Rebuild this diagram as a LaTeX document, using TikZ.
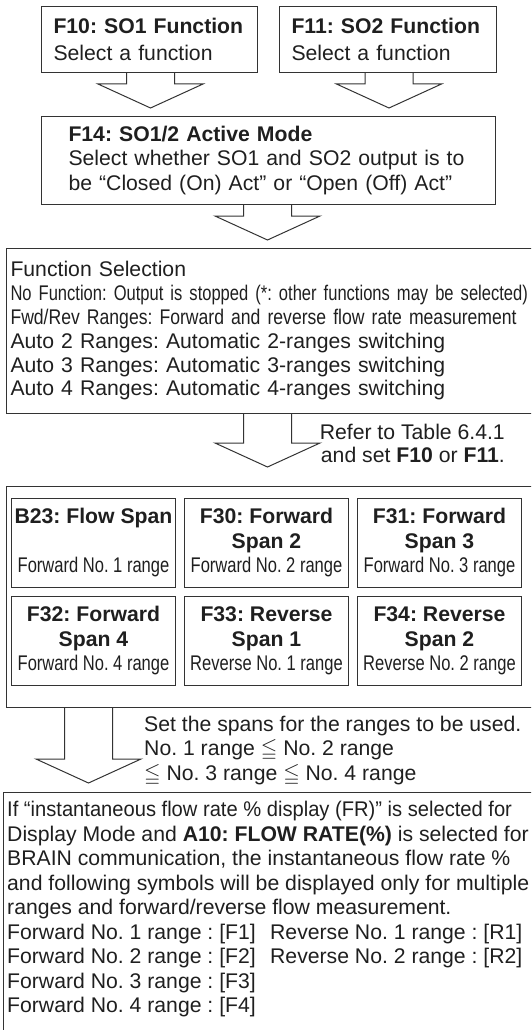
\documentclass[tikz,border=0pt]{standalone}
\usepackage{amssymb}
\usepackage{fontspec}
\setmainfont{Liberation Sans}
\newfontfamily\tightfont{Liberation Sans}[FakeStretch=0.95]
\newfontfamily\narrowfont{Liberation Sans}[FakeStretch=0.83]
\newfontfamily\narrowerfont{Liberation Sans}[FakeStretch=0.78]
\usetikzlibrary{calc,positioning}
\frenchspacing
% hollow block arrow: from node #1 down towards node #2, centred at x=#3, tip #4 above #2
\newcommand{\blockarrow}[4]{%
  \draw[hollow] let \p1=(#1.south), \p2=(#2.north) in
    (#3pt-24pt,\y1) -- (#3pt-24pt,\y2+#4pt+24pt) -- (#3pt-52.5pt,\y2+#4pt+24pt)
    -- (#3pt,\y2+#4pt) -- (#3pt+52.5pt,\y2+#4pt+24pt) -- (#3pt+24pt,\y2+#4pt+24pt)
    -- (#3pt+24pt,\y1);}

\begin{document}
\begin{tikzpicture}[
  x=1pt, y=-1pt,
  every node/.style={font=\fontsize{21.2}{24.5}\selectfont, text=black!88},
  box/.style={draw=black!80, line width=1pt, align=left, anchor=north west,
              inner ysep=4pt},
  span/.style={draw=black!80, line width=1pt, align=center, inner sep=0pt,
               minimum width=164pt, minimum height=89pt},
  note/.style={align=left, inner sep=0pt},
  hollow/.style={draw=black!80, line width=1pt}
]
\useasboundingbox (0,0) rectangle (531,1030);
\clip (0,0) rectangle (531,1030);

% top row
\node[box, inner xsep=12pt, text width=192pt, minimum height=66pt] (f10) at (41,6)
  {\textbf{F10: SO1 Function}\\[2pt]Select a function};
\node[box, inner xsep=12pt, text width=193pt, minimum height=66pt] (f11) at (279,6)
  {\textbf{F11: SO2 Function}\\[2pt]Select a function};

\node[box, inner xsep=27pt, text width=400pt, minimum height=88pt] (f14) at (41,116)
  {\textbf{F14: SO1/2 Active Mode}\\
   Select whether SO1 and SO2 output is to\\
   be “Closed (On) Act” or “Open (Off) Act”};

% function selection
\node[box, inner xsep=4pt, text width=556pt, minimum height=165pt,
      font=\fontsize{21.2}{23.8}\selectfont] (fsel) at (6,248)
  {Function Selection\\
   {\narrowerfont No Function: Output is stopped (*: other functions may be selected)}\\
   {\narrowfont Fwd/Rev Ranges: Forward and reverse flow rate measurement}\\
   Auto 2 Ranges: Automatic 2-ranges switching\\
   Auto 3 Ranges: Automatic 3-ranges switching\\
   Auto 4 Ranges: Automatic 4-ranges switching};

\node[note, align=right, anchor=east, font=\fontsize{21.2}{23.5}\selectfont] (refer) at (505,443.5)
  {Refer to Table 6.4.1\\and set \textbf{F10} or \textbf{F11}.};

% spans
\node[box, inner sep=0pt, minimum width=570pt, minimum height=221pt] (spans) at (6,486) {};

\node[span, anchor=north west] (b23) at (11,498)
  {\textbf{B23: Flow Span}\\\strut\\{\narrowerfont Forward No. 1 range}};
\node[span, right=8pt of b23] (f30)
  {\textbf{F30: Forward}\\\textbf{Span 2}\\{\narrowerfont Forward No. 2 range}};
\node[span, right=8pt of f30] (f31)
  {\textbf{F31: Forward}\\\textbf{Span 3}\\{\narrowerfont Forward No. 3 range}};
\node[span, below=8pt of b23] (f32)
  {\textbf{F32: Forward}\\\textbf{Span 4}\\{\narrowerfont Forward No. 4 range}};
\node[span, below=8pt of f30] (f33)
  {\textbf{F33: Reverse}\\\textbf{Span 1}\\{\narrowerfont Reverse No. 1 range}};
\node[span, below=8pt of f31] (f34)
  {\textbf{F34: Reverse}\\\textbf{Span 2}\\{\narrowerfont Reverse No. 2 range}};

\node[note, anchor=west] (spannote) at (144,751)
  {Set the spans for the ranges to be used.\\
   No. 1 range $\leqq$ No. 2 range\\
   $\leqq$ No. 3 range $\leqq$ No. 4 range};

% display note
\node[box, inner sep=0pt, minimum width=570pt, minimum height=270pt] (last) at (3,792) {};
\node[note, anchor=north west] (lasttext) at (7,801)
  {{\tightfont If “instantaneous flow rate \% display (FR)” is selected for}\\
   Display Mode and \textbf{A10: FLOW RATE(\%)} is selected for\\
   BRAIN communication, the instantaneous flow rate \%\\
   and following symbols will be displayed only for multiple\\
   ranges and forward/reverse flow measurement.\\
   \makebox[263pt][l]{Forward No. 1 range : [F1]}Reverse No. 1 range : [R1]\\
   \makebox[263pt][l]{Forward No. 2 range : [F2]}Reverse No. 2 range : [R2]\\
   Forward No. 3 range : [F3]\\
   Forward No. 4 range : [F4]};

\blockarrow{f10}{f14}{150.5}{8}
\blockarrow{f11}{f14}{389}{8}
\blockarrow{f14}{fsel}{267.5}{8}
\blockarrow{fsel}{spans}{267.5}{19}
\blockarrow{spans}{last}{88.5}{9}

\end{tikzpicture}
\end{document}
